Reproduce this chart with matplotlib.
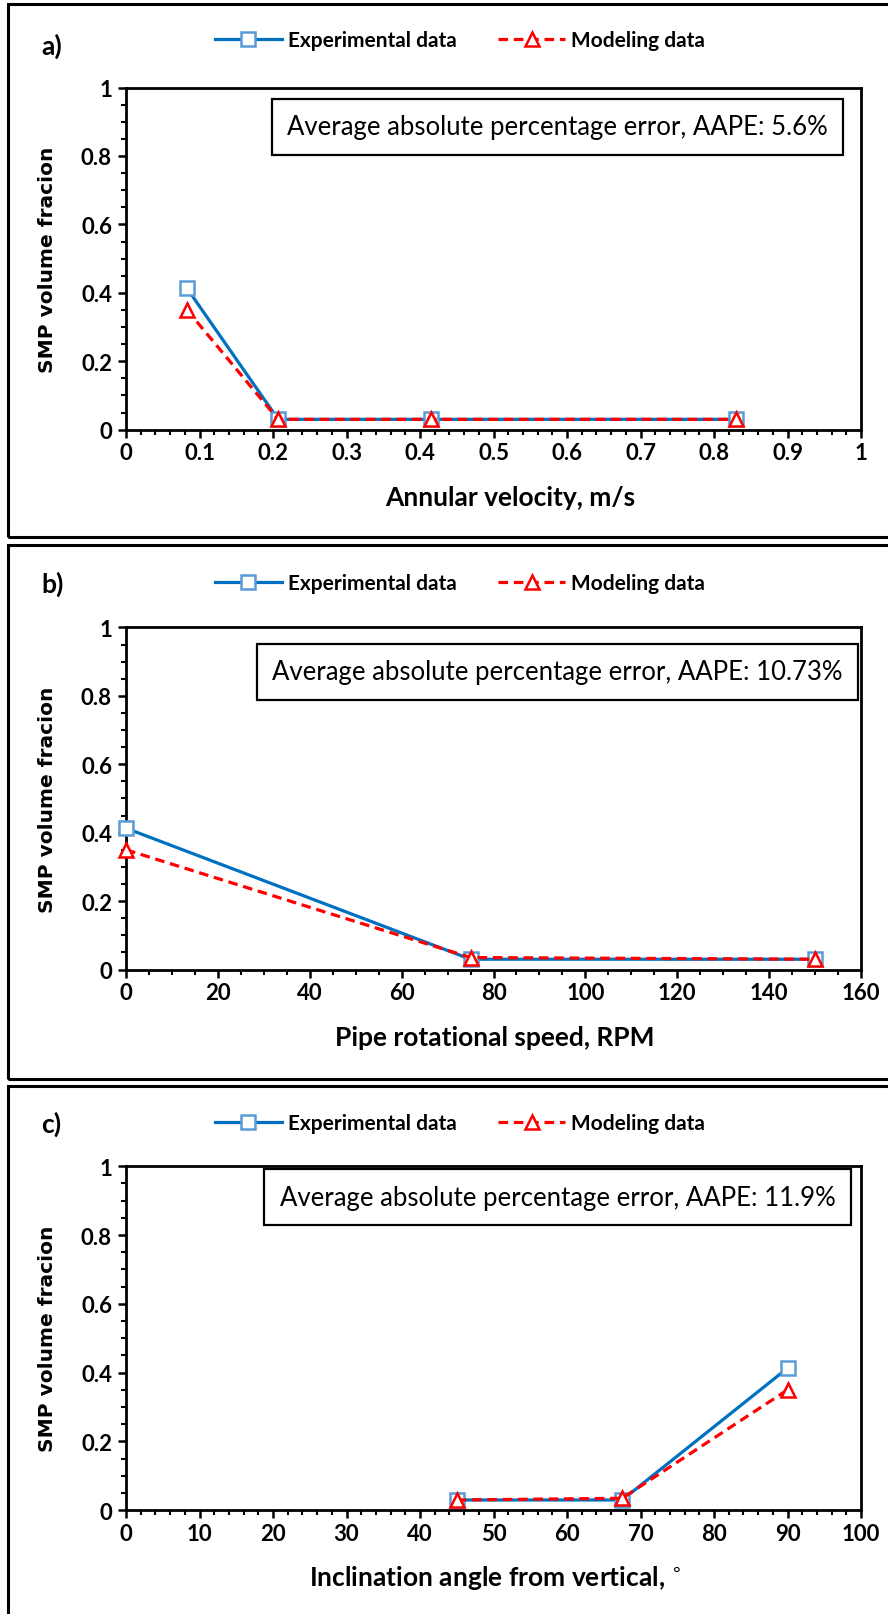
import matplotlib
matplotlib.use("Agg")
import matplotlib.pyplot as plt
from matplotlib.patches import Rectangle
from matplotlib.ticker import MultipleLocator, FuncFormatter
from matplotlib import font_manager

# ---- data -------------------------------------------------------------
velocity = [0.083, 0.207, 0.415, 0.83]
velocity_exp = [0.413, 0.03, 0.03, 0.03]
velocity_mod = [0.35, 0.03, 0.03, 0.03]

rpm = [0, 75, 150]
rpm_exp = [0.413, 0.03, 0.03]
rpm_mod = [0.35, 0.035, 0.03]

angle = [45, 67.5, 90]
angle_exp = [0.03, 0.03, 0.413]
angle_mod = [0.03, 0.035, 0.35]

panel_tags = ["a)", "b)", "c)"]
x_titles = ["Annular velocity, m/s", "Pipe rotational speed, RPM",
            "Inclination angle from vertical, $^{\\circ}$"]
aape_notes = ["Average absolute percentage error, AAPE: 5.6%",
              "Average absolute percentage error, AAPE: 10.73%",
              "Average absolute percentage error, AAPE: 11.9%"]
series_names = ["Experimental data", "Modeling data"]

# ---- fonts ------------------------------------------------------------
available = {f.name for f in font_manager.fontManager.ttflist}
body = "Lato" if "Lato" in available else "DejaVu Sans"

W, H = 888, 1615
fig = plt.figure(figsize=(W / 100, H / 100), dpi=100)
fig.patch.set_facecolor("white")


def fx(x):
    return x / W


def fy(y):
    return 1 - y / H


def axes_box(left, top, right, bottom):
    return [fx(left), fy(bottom), (right - left) / W, (bottom - top) / H]


def num_fmt(v, p):
    if abs(v) < 1e-9:
        return "0"
    if abs(v - 1) < 1e-9:
        return "1"
    return f"{v:.1f}"


# panel frames (right edge runs past the canvas)
frames = [(8, 5, 538), (8, 546, 1080), (8, 1087, 1640)]
for (l, t, b) in frames:
    fig.patches.append(Rectangle((fx(l), fy(b)), (W + 20 - l) / W, (b - t) / H,
                                 transform=fig.transFigure, fill=False,
                                 edgecolor="black", linewidth=2.2, zorder=0))

axes_px = [(126, 88.6, 861, 430.6), (126, 628.4, 861, 970.5),
           (126, 1167.2, 861, 1511.3)]
x_limits = [(0, 1), (0, 160), (0, 100)]
x_major = [0.1, 20, 10]
x_minor = [0.02, 5, 2]
x_fmt = [num_fmt, lambda v, p: f"{v:.0f}", lambda v, p: f"{v:.0f}"]
xlabel_x = [510, 495, 495]
note_y = [0.885, 0.87, 0.91]
tag_y = [46, 584, 1124]
legend_y = [41, 584, 1124]
datasets = [(velocity, velocity_exp, velocity_mod),
            (rpm, rpm_exp, rpm_mod),
            (angle, angle_exp, angle_mod)]

blue_line = "#0070C0"
blue_edge = "#5B9BD5"
red = "#FF0000"

for i, (xs, ye, ym) in enumerate(datasets):
    l, t, r, b = axes_px[i]
    ax = fig.add_axes(axes_box(l, t, r, b))
    h1, = ax.plot(xs, ye, color=blue_line, lw=2.3, marker="s", ms=10,
                  mfc="white", mec=blue_edge, mew=1.8, zorder=3,
                  clip_on=False, label=series_names[0])
    h2, = ax.plot(xs, ym, color=red, lw=2.3, ls=(0, (3, 1.8)), marker="^",
                  ms=10, mfc="white", mec=red, mew=1.8, zorder=4,
                  clip_on=False, label=series_names[1])
    ax.set_xlim(*x_limits[i])
    ax.set_ylim(0, 1)
    ax.xaxis.set_major_locator(MultipleLocator(x_major[i]))
    ax.xaxis.set_minor_locator(MultipleLocator(x_minor[i]))
    ax.xaxis.set_major_formatter(FuncFormatter(x_fmt[i]))
    ax.yaxis.set_major_locator(MultipleLocator(0.2))
    ax.yaxis.set_minor_locator(MultipleLocator(0.05))
    ax.yaxis.set_major_formatter(FuncFormatter(num_fmt))
    for s in ax.spines.values():
        s.set_linewidth(2.0)
        s.set_color("black")
    ax.tick_params(which="major", direction="out", length=6, width=1.8,
                   labelsize=16)
    ax.tick_params(axis="x", which="major", pad=3)
    ax.tick_params(axis="y", which="major", pad=4)
    ax.tick_params(which="minor", direction="out", length=3.5, width=1.5)
    for lab in ax.get_xticklabels() + ax.get_yticklabels():
        lab.set_fontfamily(body)
        lab.set_fontweight("bold")

    ax.set_ylabel("SMP volume fracion", family="DejaVu Sans", weight="bold",
                  fontsize=14.5, va="center")
    ax.yaxis.set_label_coords((48 - l) / (r - l), 0.5)
    ax.set_xlabel(x_titles[i], family=body, weight="bold", fontsize=19,
                  va="center")
    ax.xaxis.set_label_coords((xlabel_x[i] - l) / (r - l),
                              -67 / (b - t))

    # AAPE note
    ax.text(0.587, note_y[i], aape_notes[i], transform=ax.transAxes,
            ha="center", va="center", family=body, fontsize=18.5,
            bbox=dict(boxstyle="square,pad=0.6", fc="white", ec="black",
                      lw=1.6))

    fig.text(fx(41), fy(tag_y[i]), panel_tags[i], family=body,
             weight="bold", fontsize=19, ha="left", va="center")

    fig.legend(handles=[h1, h2], loc="center", ncol=2, frameon=False,
               bbox_to_anchor=(fx(460), fy(legend_y[i])),
               handlelength=3.2, handletextpad=0.3, columnspacing=2.0,
               numpoints=1,
               prop=dict(family=body, weight="bold", size=15))

fig.savefig("out.png", dpi=100, facecolor="white")
